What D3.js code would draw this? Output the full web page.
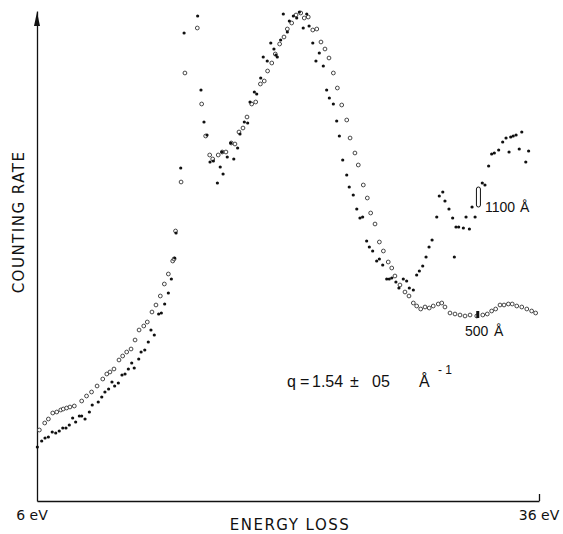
<!DOCTYPE html>
<html>
<head>
<meta charset="utf-8">
<script src="https://cdn.jsdelivr.net/npm/d3@7"></script>
<style>
  body { margin: 0; background: #fff; }
  svg text { font-family: "DejaVu Sans", "Liberation Sans", sans-serif; fill: #111; }
  svg text.note { font-family: "Liberation Sans", "DejaVu Sans", sans-serif; }
</style>
</head>
<body>
<script>
// energy loss (eV) and counting rate (arbitrary units)
const thickEV = [6.02,6.28,6.48,6.68,6.91,7.12,7.33,7.54,7.73,7.93,8.13,8.31,8.53,8.67,8.87,9.13,9.30,9.66,9.87,10.06,
  10.28,10.48,10.64,10.86,11.08,11.26,11.46,11.66,11.81,12.08,12.22,12.44,12.65,12.81,13.01,13.27,13.43,13.63,13.85,14.03,
  14.23,14.31,14.59,14.79,15.60,15.80,15.98,16.16,16.34,16.54,16.78,16.95,17.06,17.12,17.37,17.58,17.76,17.99,18.13,18.39,
  18.59,18.73,18.99,19.13,19.37,19.52,19.76,19.97,20.16,20.28,20.36,20.56,20.72,20.96,21.08,21.32,21.52,21.68,21.91,22.12,
  22.26,22.48,22.67,22.87,23.11,23.31,23.47,23.71,23.91,24.07,24.27,24.51,24.66,24.90,25.11,25.30,25.46,25.70,25.86,26.06,
  26.30,26.46,26.66,26.90,27.05,27.20,27.45,27.63,27.89,28.09,28.25,28.49,28.69,28.85,29.05,29.25,29.43,29.61,29.89,30.04,
  30.25,30.38,30.62,30.84,30.94,31.04,31.20,31.48,31.64,31.84,32.00,32.18,32.61,32.77,32.99,33.17,33.33,33.59,33.83,34.03,
  34.21,34.31,34.46,34.63,34.82,34.97,35.21,35.38];
const thickRate = [54,60,63,64,69,68,70,73,73,76,83,79,85,85,82,89,96,99,104,109,
  112,119,115,118,126,127,132,138,133,142,149,151,159,171,166,187,188,197,208,222,
  243,268,333,468,485,411,379,366,339,340,318,334,349,327,344,358,342,353,367,379,
  378,399,409,407,423,444,440,458,452,446,444,461,487,469,480,485,483,489,473,487,
  475,458,440,448,435,411,403,397,380,365,341,326,314,306,292,283,284,260,254,250,
  240,242,236,222,222,223,219,213,222,220,213,211,226,230,235,244,254,261,284,305,
  309,300,292,283,244,274,274,273,284,272,294,284,318,316,335,347,348,351,359,363,
  349,364,365,366,352,369,339,350];

const thinEV = [6.14,6.46,6.68,6.94,7.18,7.42,7.57,7.77,7.97,8.23,8.67,8.96,9.26,9.59,9.93,10.17,10.36,10.60,10.90,11.12,
  11.36,11.62,11.86,12.10,12.38,12.59,12.87,13.11,13.37,13.61,13.85,14.11,14.19,14.28,14.61,14.84,15.58,15.84,16.08,16.32,
  16.50,16.83,17.07,17.29,17.61,17.83,18.07,18.31,18.55,18.83,19.07,19.35,19.58,19.78,20.03,20.24,20.50,20.76,20.96,21.22,
  21.48,21.76,21.97,22.21,22.48,22.72,22.97,23.21,23.45,23.71,23.95,24.21,24.51,24.71,25.00,25.20,25.50,25.74,25.94,26.20,
  26.46,26.70,26.99,27.20,27.39,27.69,27.99,28.23,28.49,28.69,28.93,29.19,29.44,29.68,29.98,30.19,30.38,30.68,30.98,31.28,
  31.58,31.88,32.28,32.64,32.91,33.17,33.41,33.67,33.91,34.17,34.40,34.67,34.97,35.27,35.56,35.80];
const thinRate = [71,78,82,88,89,91,92,93,94,95,100,105,109,115,122,127,129,132,141,145,
  149,152,161,171,175,179,189,196,205,217,227,240,242,270,319,428,473,397,365,346,
  342,346,349,349,358,357,369,373,384,397,399,417,420,430,438,447,457,464,472,478,
  486,488,483,484,471,472,459,452,443,428,413,396,381,363,348,336,316,303,288,277,
  259,250,239,233,225,216,209,205,198,195,192,194,193,195,197,198,194,188,187,186,
  185,186,185,186,187,190,192,196,196,197,197,195,194,192,190,188];

const xEnds = [6, 36];
const xEndLabels = ["6 eV", "36 eV"];
// thickness markers: [eV, rate low, rate high]
const thickMark = [32.38, 294, 314];
const thinMark = [32.34, 183, 190];
// pieces of the momentum-transfer note
const qParts = ["q", "=", "1.54", "±", "05", "Å"];

const W = 563, H = 534;
const svg = d3.select("body").append("svg").attr("width", W).attr("height", H);

const x = d3.scaleLinear().domain(xEnds).range([37, 539]);
const y = d3.scaleLinear().domain([0, 490]).range([501, 11]);

// x axis: bare line with a short up-tick at the right end
svg.append("g")
  .attr("transform", `translate(0,${y(0)})`)
  .call(d3.axisBottom(x).tickValues([36]).tickSizeInner(-7).tickSizeOuter(0).tickFormat(""))
  .call(g => g.selectAll("path, line").attr("stroke", "#111").attr("stroke-width", 1.3));

// y axis with arrow
svg.append("g")
  .attr("transform", `translate(${x(6)},0)`)
  .call(d3.axisLeft(y).tickValues([]).tickSizeOuter(0))
  .call(g => g.select("path").attr("stroke", "#111").attr("stroke-width", 1.3));
svg.append("path")
  .attr("d", `M${x(6)},${y(490) + 1}L${x(6) - 3},${y(490) + 15}L${x(6) + 3},${y(490) + 15}Z`)
  .attr("fill", "#111");

// end labels
svg.selectAll(".xend").data(xEnds).enter().append("text")
  .attr("x", d => x(d) + (d === 6 ? -5 : 0))
  .attr("y", 520)
  .attr("text-anchor", "middle")
  .attr("font-size", 14)
  .text((d, i) => xEndLabels[i]);

svg.append("text")
  .attr("x", 290).attr("y", 530)
  .attr("text-anchor", "middle")
  .attr("font-size", 15)
  .attr("letter-spacing", 1.5)
  .text("ENERGY LOSS");

svg.append("text")
  .attr("transform", "translate(24,222) rotate(-90)")
  .attr("text-anchor", "middle")
  .attr("font-size", 15)
  .attr("letter-spacing", 1.5)
  .text("COUNTING RATE");

// data points
const thick = thickEV.map((e, i) => ({ e, r: thickRate[i] }));
const thin = thinEV.map((e, i) => ({ e, r: thinRate[i] }));

svg.append("g").selectAll("circle").data(thin).enter().append("circle")
  .attr("cx", d => x(d.e)).attr("cy", d => y(d.r))
  .attr("r", 1.9)
  .attr("fill", "#fff").attr("stroke", "#333").attr("stroke-width", 0.9);

svg.append("g").selectAll("circle").data(thick).enter().append("circle")
  .attr("cx", d => x(d.e)).attr("cy", d => y(d.r))
  .attr("r", 1.6)
  .attr("fill", "#111");

// markers
svg.append("rect")
  .attr("x", x(thickMark[0]) - 2).attr("y", y(thickMark[2]))
  .attr("width", 4).attr("height", y(thickMark[1]) - y(thickMark[2]))
  .attr("rx", 2)
  .attr("fill", "none").attr("stroke", "#111").attr("stroke-width", 1);
svg.append("rect")
  .attr("x", x(thinMark[0]) - 1.5).attr("y", y(thinMark[2]))
  .attr("width", 3).attr("height", y(thinMark[1]) - y(thinMark[2]))
  .attr("fill", "#111");

// labels
svg.append("text").attr("class", "note").attr("x", 485).attr("y", 212).attr("font-size", 14).text("1100");
svg.append("text").attr("class", "note").attr("x", 520).attr("y", 212).attr("font-size", 14).text("Å");
svg.append("text").attr("class", "note").attr("x", 465).attr("y", 336).attr("font-size", 14).text("500");
svg.append("text").attr("class", "note").attr("x", 494).attr("y", 336).attr("font-size", 14).text("Å");

const qX = [287, 300, 312, 350, 372, 419];
svg.selectAll(".q").data(qParts).enter().append("text")
  .attr("class", "note")
  .attr("x", (d, i) => qX[i]).attr("y", 387)
  .attr("font-size", 16)
  .text(d => d);
svg.append("text").attr("class", "note").attr("x", 438).attr("y", 374).attr("font-size", 12).text("- 1");
</script>
</body>
</html>
